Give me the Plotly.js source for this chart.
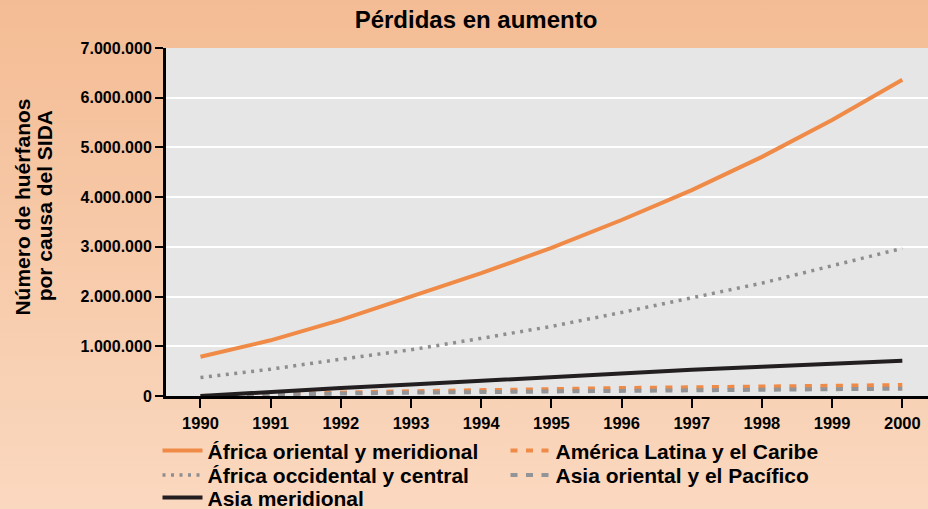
<!DOCTYPE html>
<html>
<head>
<meta charset="utf-8">
<script src="https://cdn.plot.ly/plotly-3.0.1.min.js"></script>
<style>
  html, body { margin: 0; padding: 0; }
  body { width: 928px; height: 509px; background: linear-gradient(#f4bc94, #fad8bf); overflow: hidden; }
  #chart { width: 928px; height: 509px; }
</style>
</head>
<body>
<div id="chart"></div>
<script>
const years = [1990, 1991, 1992, 1993, 1994, 1995, 1996, 1997, 1998, 1999, 2000];
const africaOriental = [790000, 1120000, 1530000, 1990000, 2470000, 2980000, 3540000, 4140000, 4810000, 5550000, 6360000];
const americaLatina = [0, 40000, 70000, 95000, 120000, 145000, 160000, 175000, 190000, 205000, 220000];
const africaOccidental = [370000, 540000, 740000, 930000, 1160000, 1400000, 1680000, 1970000, 2270000, 2620000, 2970000];
const asiaOriental = [0, 30000, 50000, 68000, 82000, 97000, 107000, 117000, 127000, 137000, 147000];
const asiaMeridional = [0, 90000, 160000, 230000, 310000, 380000, 460000, 530000, 590000, 650000, 710000];

const seriesNames = ["África oriental y meridional", "América Latina y el Caribe", "África occidental y central", "Asia oriental y el Pacífico", "Asia meridional"];
const yTickVals = [0, 1000000, 2000000, 3000000, 4000000, 5000000, 6000000, 7000000];
const yTickText = ["0", "1.000.000", "2.000.000", "3.000.000", "4.000.000", "5.000.000", "6.000.000", "7.000.000"];
const xTickVals = years;
const xTickText = years.map(String);
const chartTitle = "Pérdidas en aumento";
const yTitleLines = ["Número de huérfanos", "por causa del SIDA"];

const orange = "#ef8a47";
const black = "#231f20";
const greyDot = "#8e8e90";
const greyDash = "#929497";

const traces = [
  { x: years, y: africaOriental, name: seriesNames[0], legend: "legend", mode: "lines", line: { color: orange, width: 4 } },
  { x: years, y: americaLatina, name: seriesNames[1], legend: "legend", mode: "lines", line: { color: orange, width: 4, dash: "7px,8.5px" } },
  { x: years, y: africaOccidental, name: seriesNames[2], legend: "legend2", mode: "lines", line: { color: greyDot, width: 3.5, dash: "3px,5.5px" } },
  { x: years, y: asiaOriental, name: seriesNames[3], legend: "legend2", mode: "lines", line: { color: greyDash, width: 4, dash: "7px,8.5px" } },
  { x: years, y: asiaMeridional, name: seriesNames[4], legend: "legend3", mode: "lines", line: { color: black, width: 4 } }
];

const L = 165.5, T = 47.5, B = 113, W = 928, H = 509;
const pw = W - L, ph = H - T - B;
const px = v => (v - L) / pw;
const py = v => (H - B - v) / ph;

const sans = "Liberation Sans, Arial, sans-serif";

function legendAt(yCenter) {
  return {
    orientation: "h",
    x: px(157), y: py(yCenter), xanchor: "left", yanchor: "middle",
    bgcolor: "rgba(0,0,0,0)",
    font: { family: sans, size: 21, weight: "bold", color: "#000" },
    itemwidth: 40,
    entrywidth: 293,
    entrywidthmode: "pixels",
    traceorder: "normal",
    itemclick: false, itemdoubleclick: false
  };
}

const layout = {
  width: W, height: H,
  margin: { l: L, r: 0, t: T, b: B, pad: 0, autoexpand: false },
  paper_bgcolor: "rgba(0,0,0,0)",
  plot_bgcolor: "#e6e6e6",
  showlegend: true,
  hovermode: false,
  title: {
    text: chartTitle,
    font: { family: sans, size: 24, weight: "bold", color: "#000" },
    xref: "container", yref: "container",
    x: 476 / W, y: 1 - 20 / H, xanchor: "center", yanchor: "middle"
  },
  xaxis: {
    range: [1990 - 34.5 / 70.23, 2000 + 25.7 / 70.23],
    tickvals: xTickVals,
    ticktext: xTickText,
    ticks: "outside", ticklen: 9, tickwidth: 2, tickcolor: "#000",
    ticklabelstandoff: 2,
    showline: true, linecolor: "#000", linewidth: 2.5,
    showgrid: false, zeroline: false,
    tickfont: { family: sans, size: 16.5, weight: "bold", color: "#000" },
    automargin: false,
    fixedrange: true
  },
  yaxis: {
    range: [0, 7000000],
    tickvals: yTickVals,
    ticktext: yTickText,
    ticks: "outside", ticklen: 8, tickwidth: 2, tickcolor: "#000",
    showline: true, linecolor: "#000", linewidth: 3,
    showgrid: true, gridcolor: "#ffffff", gridwidth: 2,
    zeroline: false,
    tickfont: { family: sans, size: 16, weight: "bold", color: "#000" },
    automargin: false,
    fixedrange: true
  },
  legend: legendAt(451),
  legend2: legendAt(475.5),
  legend3: legendAt(498),
  annotations: [
    { text: yTitleLines[0], xref: "paper", yref: "paper", x: px(22.2), y: py(206.5), xanchor: "center", yanchor: "middle", textangle: -90, showarrow: false, font: { family: sans, size: 21, weight: "bold", color: "#000" } },
    { text: yTitleLines[1], xref: "paper", yref: "paper", x: px(43.5), y: py(206), xanchor: "center", yanchor: "middle", textangle: -90, showarrow: false, font: { family: sans, size: 21, weight: "bold", color: "#000" } }
  ]
};

Plotly.newPlot("chart", traces, layout, { displayModeBar: false, staticPlot: true });
</script>
</body>
</html>
